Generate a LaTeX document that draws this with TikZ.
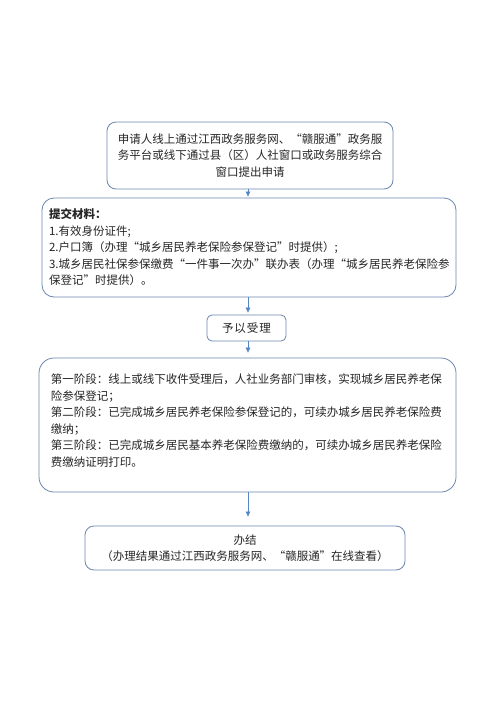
\documentclass[tikz,border=0pt]{standalone}
\usepackage{fontspec}
\setmainfont{Noto Sans CJK SC}
\newfontfamily\fwfont[RawFeature=+fwid]{Noto Sans CJK SC}
\newcommand\qq[1]{{\fwfont “}#1{\fwfont ”}}
\usetikzlibrary{arrows.meta}
\definecolor{boxc}{RGB}{105,135,175}
\definecolor{arrc}{RGB}{85,135,195}
\begin{document}
\begin{tikzpicture}[x=1pt,y=-1pt,
  box/.style={draw=boxc, line width=0.8pt, rounded corners=9pt, inner sep=0pt,
    font=\fontsize{11.5}{16.5}\selectfont, text=black!85},
  arr/.style={draw=arrc, line width=0.7pt, -{Triangle[length=5pt,width=4.5pt]}}]
\useasboundingbox[fill=white] (0,0) rectangle (500,707);

\node[box, minimum width=286pt, minimum height=67pt, align=center] (b1) at (250,155.5)
  {申请人线上通过江西政务服务网、\qq{赣服通}政务服\\
   务平台或线下通过县（区）人社窗口或政务服务综合\\
   窗口提出申请};

\node[box, rounded corners=12pt, minimum width=414pt, minimum height=99pt, align=left, text width=400pt] (b2) at (249,247.5)
  {\textbf{提交材料：}\\
   1.有效身份证件;\\
   2.户口簿（办理\qq{城乡居民养老保险参保登记}时提供）;\\
   3.城乡居民社保参保缴费\qq{一件事一次办}联办表（办理\qq{城乡居民养老保险参\\
   保登记}时提供）。};

\node[box, rounded corners=5pt, minimum width=79pt, minimum height=26pt] (b3) at (246.5,328)
  {予\hspace{1pt}以\hspace{1pt}受\hspace{1pt}理};

\node[box, rounded corners=15pt, minimum width=417pt, minimum height=134pt] (b4) at (247.5,425) {};
\node[anchor=north west, inner sep=0pt, text width=400pt, align=left,
      font=\fontsize{11.5}{16.5}\selectfont, text=black!85] (t4)
  at ([shift={(12pt,-16pt)}]b4.north west)
  {第一阶段：线上或线下收件受理后，人社业务部门审核，实现城乡居民养老保\\
   险参保登记；\\
   第二阶段：已完成城乡居民养老保险参保登记的，可续办城乡居民养老保险费\\
   缴纳；\\
   第三阶段：已完成城乡居民基本养老保险费缴纳的，可续办城乡居民养老保险\\
   费缴纳证明打印。};

\node[box, minimum width=320pt, minimum height=44pt, align=center] (b5) at (245,548)
  {办结\\
   （办理结果通过江西政务服务网、\qq{赣服通}在线查看）};

\coordinate (ax) at (248,0);
\draw[arr, shorten >=1pt] (b1.south -| ax) -- (b2.north -| ax);
\draw[arr, shorten >=2pt] (b2.south -| ax) -- (b3.north -| ax);
\draw[arr, shorten >=5pt] (b3.south -| ax) -- (b4.north -| ax);
\draw[arr, shorten >=9pt] (b4.south -| ax) -- (b5.north -| ax);
\end{tikzpicture}
\end{document}
